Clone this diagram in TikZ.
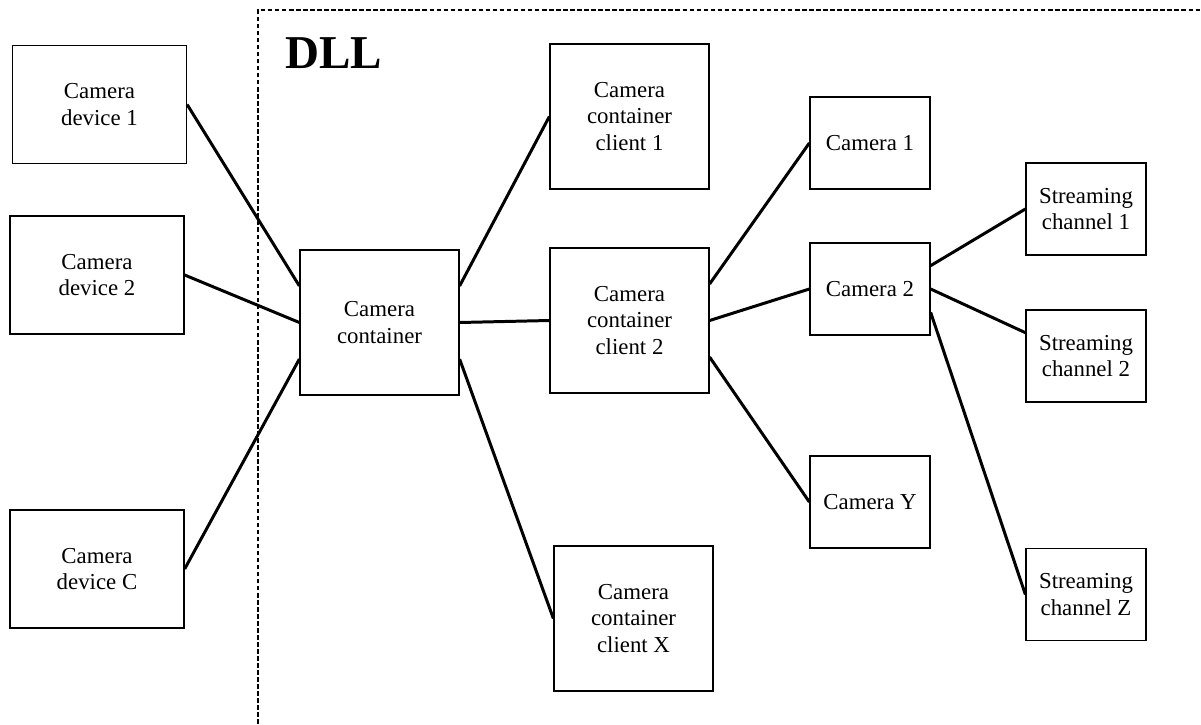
\documentclass[tikz,border=0pt]{standalone}
\usepackage{fontspec}
\setmainfont{Liberation Serif}
\usetikzlibrary{calc}
\tikzset{
    mybox/.style = {rectangle, draw=black, line width=0.75pt, align=center, inner sep=0pt, font=\fontsize{13}{15.2}\selectfont},
    mydev/.style = {mybox, minimum width=3.48cm, minimum height=2.36cm},
    mycont/.style = {mybox, minimum width=3.18cm, minimum height=2.9cm},
    mycam/.style = {mybox, minimum width=2.4cm, minimum height=1.84cm},
    edgen/.style = {-, line width=1.7pt, black},
    edgedll/.style = {-, line width=0.9pt, black, dash pattern=on 2.6pt off 1.4pt}, % dll border
}

\begin{document}
\begin{tikzpicture}[x=0.02cm, y=-0.02cm]
  \useasboundingbox (0,0) rectangle (1201,724);
  % dll border
  \coordinate (dllb) at (258,724);
  \coordinate (dllr) at (1201,10);
  \draw[edgedll] (dllb) |- (dllr);
  \node[anchor=base west, inner sep=0pt, font=\fontsize{26.8}{30}\selectfont\bfseries] (dll) at (285,68) {DLL};

  \node[mydev] (dev1) at (99.5,104.5) {Camera\\device 1};
  \node[mydev] (dev2) at (97,275) {Camera\\device 2};
  \node[mydev] (devc) at (97,569) {Camera\\device C};
  \node[mycont] (cont) at (379.5,322.5) {Camera\\container};
  \node[mycont] (cl1) at (629.5,116.5) {Camera\\container\\client 1};
  \node[mycont] (cl2) at (629.5,320.5) {Camera\\container\\client 2};
  \node[mycont] (clx) at (633.5,618.5) {Camera\\container\\client X};
  \node[mycam] (cam1) at (870,143) {Camera 1};
  \node[mycam] (cam2) at (870,289) {Camera 2};
  \node[mycam] (camy) at (870,502) {Camera Y};
  \node[mycam] (sc1) at (1086,209) {Streaming\\channel 1};
  \node[mycam] (sc2) at (1086,356) {Streaming\\channel 2};
  \node[mycam] (scz) at (1086,594.5) {Streaming\\channel Z};

  \draw[edgen] (dev1.east) -- ($(cont.north west)!0.25!(cont.south west)$);
  \draw[edgen] (dev2.east) -- (cont.west);
  \draw[edgen] (devc.east) -- ($(cont.north west)!0.75!(cont.south west)$);
  \draw[edgen] ($(cont.north east)!0.25!(cont.south east)$) -- (cl1.west);
  \draw[edgen] (cont.east) -- (cl2.west);
  \draw[edgen] ($(cont.north east)!0.75!(cont.south east)$) -- (clx.west);
  \draw[edgen] ($(cl2.north east)!0.25!(cl2.south east)$) -- (cam1.west);
  \draw[edgen] (cl2.east) -- (cam2.west);
  \draw[edgen] ($(cl2.north east)!0.75!(cl2.south east)$) -- (camy.west);
  \draw[edgen] ($(cam2.north east)!0.25!(cam2.south east)$) -- (sc1.west);
  \draw[edgen] (cam2.east) -- ($(sc2.north west)!0.25!(sc2.south west)$);
  \draw[edgen] ($(cam2.north east)!0.75!(cam2.south east)$) -- (scz.west);
\end{tikzpicture}
\end{document}
